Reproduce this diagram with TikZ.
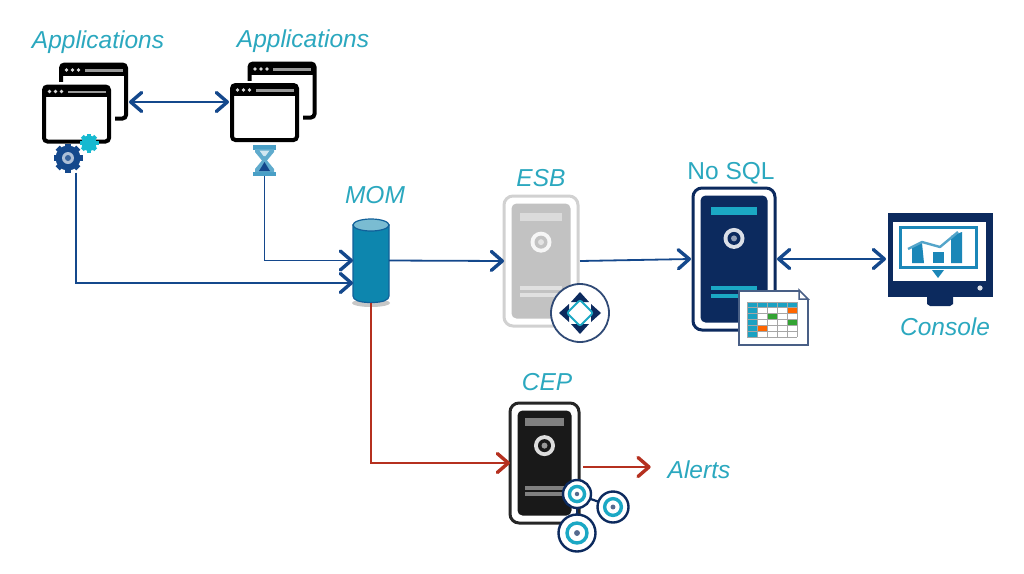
\documentclass[tikz,border=0pt]{standalone}
\usepackage{fontspec}
\setmainfont{Liberation Sans}
\usetikzlibrary{arrows.meta,calc}
\definecolor{lbl}{HTML}{2BA8BF}
\definecolor{arrowblue}{HTML}{14488C}
\definecolor{navy}{HTML}{0C2A5E}
\definecolor{teal}{HTML}{1BA8C4}
\definecolor{midblue}{HTML}{1B87B8}
\definecolor{cylblue}{HTML}{0D86AE}
\definecolor{alertred}{HTML}{B5301F}
\tikzset{
  lab/.style={text=lbl,font=\fontsize{24.5}{28}\selectfont\itshape,inner sep=0pt,outer sep=0pt},
  labup/.style={text=lbl,font=\fontsize{24.5}{28}\selectfont,inner sep=0pt,outer sep=0pt},
  ghost/.style={inner sep=0pt,outer sep=0pt,draw=none},
  barb/.tip={Straight Barb[line width=3.4pt,length=11pt,width=19pt,round]},
  flow/.style={arrowblue,line width=1.8pt,-barb},
  flowtwo/.style={arrowblue,line width=1.8pt,barb-barb},
  redflow/.style={alertred,line width=1.8pt,-barb},
  winbox/.style={draw=black,line width=4pt,rounded corners=3.5pt,inner sep=0pt,outer sep=0pt,fill=white},
}
% window pair: name, front centre x, y, back centre x, y
\newcommand{\WinPair}[5]{%
  \node[winbox,minimum width=65pt,minimum height=54pt] (#1back) at (#4,#5) {};
  \fill[black] ({#4-32},{#5-27}) rectangle ({#4+32},{#5-16});
  \fill[black!40] ({#4-9},{#5-22.5}) rectangle ({#4+29},{#5-20});
  \foreach \d in {-27,-21,-15} \fill[white!85!black] ({#4+\d},{#5-21.5}) circle (1.9);
  \fill[white] ({#2-38},{#3-32}) rectangle ({#2+38},{#3+32});
  \node[winbox,minimum width=65pt,minimum height=55pt] (#1front) at (#2,#3) {};
  \fill[black] ({#2-32},{#3-28}) rectangle ({#2+32},{#3-17});
  \fill[black!40] ({#2-9},{#3-23.5}) rectangle ({#2+29},{#3-21});
  \foreach \d in {-27,-21,-15} \fill[white!85!black] ({#2+\d},{#3-22.5}) circle (1.9);
}
% server: name, cx, cy, w, h, frame, fill, top bar, low bar
\newcommand{\Server}[9]{%
  \node[draw=#6,line width=3pt,rounded corners=9pt,minimum width=#4pt,minimum height=#5pt,inner sep=0pt,outer sep=0pt,fill=white] (#1) at (#2,#3) {};
  \fill[#7,rounded corners=5pt] ({#2-#4/2+7.5},{#3-#5/2+7.5}) rectangle ({#2+#4/2-7.5},{#3+#5/2-7.5});
  \fill[#8] ({#2-0.28*#4},{#3-0.34*#5-4}) rectangle ({#2+0.28*#4},{#3-0.34*#5+4});
  \fill[#9] ({#2-0.28*#4},{#3+0.205*#5-2}) rectangle ({#2+0.28*#4},{#3+0.205*#5+2});
  \fill[#9] ({#2-0.28*#4},{#3+0.26*#5-2}) rectangle ({#2+0.28*#4},{#3+0.26*#5+2});
  \fill[white!85!#7] (#2,{#3-0.145*#5}) circle (10.5);
  \fill[#7] (#2,{#3-0.145*#5}) circle (6.5);
  \fill[white!55!#7] (#2,{#3-0.145*#5}) circle (3);
}
% ring used on the CEP icon
\newcommand{\Ring}[4]{%
  \node[circle,draw=navy,line width=2.4pt,fill=white,minimum size=#4pt,inner sep=0pt,outer sep=0pt] (#1) at (#2,#3) {};
  \draw[teal,line width=3.4pt] (#2,#3) circle ({0.27*#4});
  \fill[navy!70] (#2,#3) circle ({0.08*#4});
}
\begin{document}
\begin{tikzpicture}[x=1pt,y=-1pt]
\useasboundingbox[fill=white] (0,0) rectangle (1024,573);

% applications
\fill[teal!80!cyan] (89,143) circle (8);
\WinPair{aa}{76.5}{114}{93.5}{91.5}
\WinPair{ab}{264.5}{112.5}{282}{90.5}

% gears
\node[circle,fill=teal!80!cyan,minimum size=15pt,inner sep=0pt,outer sep=0pt] (gearb) at (89,143) {};
\foreach \a in {0,45,...,315} \fill[teal!80!cyan,rotate around={\a:(89,143)}] (87,133.5) rectangle (91,137);
\node[circle,fill=arrowblue,minimum size=25pt,inner sep=0pt,outer sep=0pt] (geara) at (68,158) {};
\foreach \a in {0,45,...,315} \fill[arrowblue,rotate around={\a:(68,158)}] (65,143.5) rectangle (71,148);
\fill[white!65!arrowblue] (68,158) circle (6);
\fill[arrowblue!85] (68,158) circle (3);

% hourglass
\node[ghost,minimum width=23pt,minimum height=31pt] (hour) at (264.5,160.5) {};
\fill[midblue!80] (253,145) rectangle (276,149.5);
\fill[midblue!80] (253,171.5) rectangle (276,176);
\fill[midblue!70] (255,149) -- (274,149) -- (274,152) -- (267,160.5) -- (274,169) -- (274,172) -- (255,172) -- (255,169) -- (262,160.5) -- (255,152) -- cycle;
\fill[white!80!midblue] (259.5,150.5) -- (269.5,150.5) -- (265.5,156) -- (263.5,156) -- cycle;
\fill[arrowblue] (264.5,162) -- (270,171) -- (259,171) -- cycle;

% MOM cylinder
\fill[black!22] (371,303) ellipse (19 and 4);
\node[ghost,minimum width=36pt,minimum height=84pt] (mom) at (371,260.5) {};
\filldraw[draw=arrowblue!60!cylblue,line width=1.2pt,fill=cylblue] (353,225) -- (353,296)
  .. controls (353,300) and (359,302.5) .. (371,302.5)
  .. controls (383,302.5) and (389,300) .. (389,296) -- (389,225) -- cycle;
\filldraw[draw=arrowblue!60!cylblue,line width=1.2pt,fill=cylblue!55!white] (371,225) ellipse (18 and 6);

% ESB server and its icon
\Server{esb}{541}{261}{74}{130}{black!18}{black!24}{black!14}{black!12}
\node[circle,draw=navy!85,line width=1.8pt,fill=white,minimum size=58pt,inner sep=0pt,outer sep=0pt] (esbicon) at (580,313) {};
\fill[navy] (580,292) -- (589,302) -- (571,302) -- cycle;
\fill[navy] (580,334) -- (589,324) -- (571,324) -- cycle;
\fill[navy] (559,313) -- (569,304) -- (569,322) -- cycle;
\fill[navy] (601,313) -- (591,304) -- (591,322) -- cycle;
\filldraw[draw=teal,line width=1.8pt,fill=white,rounded corners=2pt] (580,300) -- (593,313) -- (580,326) -- (567,313) -- cycle;

% NoSQL server and table
\Server{nosql}{734}{259}{82}{142}{navy}{navy}{teal}{teal}
\node[draw=navy!75,line width=2.2pt,fill=white,minimum width=69pt,minimum height=54pt,inner sep=0pt,outer sep=0pt] (table) at (773.5,318) {};
\fill[white] (799,290) -- (809,290) -- (809,300) -- cycle;
\draw[navy!75,line width=1.5pt] (799,290) -- (808,299) -- (799,299) -- cycle;
\fill[teal!80!midblue] (747,302) rectangle (797,307.8);
\fill[teal!80!midblue] (747,302) rectangle (757,337);
\fill[orange!80!red] (787,307.8) rectangle (797,313.7);
\fill[green!55!black!80] (767,313.7) rectangle (777,319.5);
\fill[green!55!black!80] (787,319.5) rectangle (797,325.3);
\fill[orange!80!red] (757,325.3) rectangle (767,331.2);
\foreach \gx in {747,757,...,797} \draw[black!35,line width=0.8pt] (\gx,302) -- (\gx,337);
\foreach \gy in {302,307.83,313.67,319.5,325.33,331.17,337} \draw[black!35,line width=0.8pt] (747,\gy) -- (797,\gy);

% console
\node[ghost,minimum width=105pt,minimum height=84pt] (console) at (940.5,255) {};
\fill[navy] (927,297) -- (953,297) -- (953,304) -- (950,306) -- (930,306) -- (927,304) -- cycle;
\fill[navy] (888,213) rectangle (993,297);
\fill[white] (893,222) rectangle (986,281);
\draw[midblue,line width=3pt] (900,227) rectangle (976,267);
\fill[midblue] (932,270) -- (944,270) -- (938,278) -- cycle;
\fill[midblue] (912,263) -- (912,247) -- (922,243) -- (924,263) -- cycle;
\fill[midblue] (933,252) rectangle (944,263);
\fill[midblue] (951,236) -- (962,232) -- (962,263) -- (951,263) -- cycle;
\draw[midblue!75,line width=2.4pt,line join=round] (908,249) -- (922,242) -- (940,247) -- (958,232);
\fill[white!85!navy] (980,288) circle (2.6);

% CEP server and rings
\Server{cep}{544.5}{463}{69}{120}{black!85}{black!90}{black!50}{black!50}
\draw[navy,line width=2.2pt] (577,494) -- (613,507);
\draw[navy,line width=2.2pt] (577,494) -- (577,533);
\Ring{ra}{577}{494}{28}
\Ring{rb}{613}{507}{31}
\Ring{rc}{577}{533}{37}

% labels
\node[lab] (l1) at (98,42.5) {Applications};
\node[lab] (l2) at (303,41.5) {Applications};
\node[lab] (l3) at (375,195) {MOM};
\node[lab] (l4) at (541,178.5) {ESB};
\node[labup] (l5) at (731,173) {No SQL};
\node[lab] (l6) at (945,327) {Console};
\node[lab] (l7) at (547,382) {CEP};
\node[lab] (alerts) at (699,470) {Alerts};

% connectors
\draw[flowtwo] ([xshift=3pt,yshift=-10.5pt]aaback.east) -- ([xshift=-3pt,yshift=10.5pt]abfront.west);
\draw[flow] ([xshift=8pt]geara.south) ++(0,2) |- ([yshift=-22.5pt]mom.west);
\draw[flow] (hour.south) |- (mom.west);
\draw[flow] (mom.east) -- (esb.west);
\draw[flow] ([xshift=2pt]esb.east) -- ([xshift=-2pt]nosql.west);
\draw[flowtwo] ([xshift=2pt]nosql.east) -- ([yshift=-4pt,xshift=-2pt]console.west);
\draw[redflow] (mom.south) |- (cep.west);
\draw[redflow] ([xshift=4pt,yshift=-4pt]cep.east) -- ([xshift=-17pt,yshift=3pt]alerts.west);
\end{tikzpicture}
\end{document}
